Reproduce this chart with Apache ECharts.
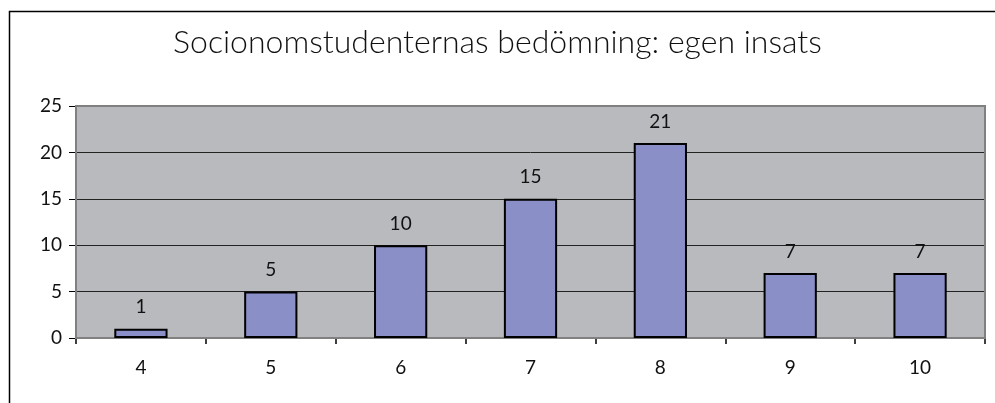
<!DOCTYPE html>
<html><head><meta charset="utf-8">
<script src="https://cdn.jsdelivr.net/npm/echarts@6/dist/echarts.min.js"></script>
<style>html,body{margin:0;padding:0;background:#fff}#c{width:995px;height:403px}</style>
</head><body><div id="c"></div>
<script>
const titleText = 'Socionomstudenternas bedömning: egen insats';
const categories = ['4','5','6','7','8','9','10'];
const values = [1,5,10,15,21,7,7];
const yTicks = [0,5,10,15,20,25];

const chart = echarts.init(document.getElementById('c'));
const font = 'Lato, "Open Sans", sans-serif';
chart.setOption({
  animation:false,
  backgroundColor:'#fff',
  title:{text:titleText,left:'center',top:22,textStyle:{fontFamily:font,fontWeight:300,fontSize:32,color:'#111'}},
  graphic:[
    {type:'rect',shape:{x:9.5,y:11.5,width:1000,height:500},style:{fill:null,stroke:'#000',lineWidth:1.5},silent:true,z:-1},
    {type:'rect',shape:{x:76,y:106,width:909,height:232},style:{fill:null,stroke:'#808080',lineWidth:2},silent:true,z:1}
  ],
  grid:{left:76,right:10,top:106,bottom:65,show:true,backgroundColor:'#b9babe',borderWidth:0},
  xAxis:{type:'category',data:categories,boundaryGap:true,
    axisLine:{lineStyle:{color:'#555',width:2}},
    axisTick:{show:true,length:6,inside:false,lineStyle:{color:'#000',width:1.5}},
    axisLabel:{fontFamily:font,fontSize:19,color:'#111',margin:20}},
  yAxis:{type:'value',min:yTicks[0],max:yTicks[yTicks.length-1],interval:5,
    axisLine:{show:true,lineStyle:{color:'#555',width:2}},
    axisTick:{show:true,length:7,lineStyle:{color:'#000'}},
    axisLabel:{fontFamily:font,fontSize:19,color:'#111',margin:14},
    splitLine:{show:true,lineStyle:{color:'#222',width:1}}},
  series:[{type:'bar',data:values,barWidth:'41%',
    itemStyle:{color:'#8b8fc7',borderColor:'#000',borderWidth:2},
    label:{show:true,position:'top',distance:12,fontFamily:font,fontSize:19,color:'#111'}}]
});
</script></body></html>
